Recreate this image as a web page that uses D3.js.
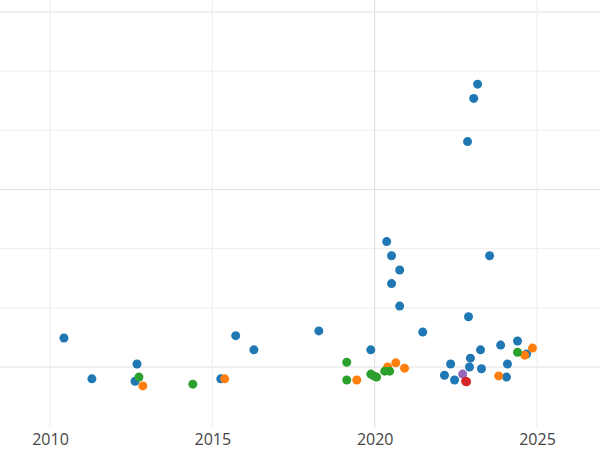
<!DOCTYPE html>
<html><head><meta charset="utf-8">
<script src="https://cdn.jsdelivr.net/npm/d3@7"></script>
<style>body{margin:0;background:#fff}</style>
</head><body>
<svg id="chart" width="600" height="450"></svg>
<script>
var xTicks = [2010, 2015, 2020, 2025];
var yGrid = [0, 1, 2, 3, 4, 5, 6];
var colors = {blue: "#1f77b4", orange: "#ff7f0e", green: "#2ca02c", purple: "#9467bd", red: "#d62728"};

var blueX = [2010.43, 2011.29, 2012.68, 2012.62, 2015.26, 2015.72, 2016.28, 2018.28, 2019.88, 2020.37, 2020.52, 2020.77, 2020.52, 2020.77, 2021.48, 2022.86, 2023.05, 2023.17, 2023.54, 2022.89, 2022.15, 2022.46, 2022.34, 2022.95, 2022.92, 2023.26, 2023.29, 2023.88, 2024.09, 2024.06, 2024.4, 2024.68];
var blueY = [0.49, -0.2, 0.05, -0.24, -0.2, 0.53, 0.29, 0.61, 0.29, 2.12, 1.88, 1.64, 1.41, 1.03, 0.59, 3.81, 4.54, 4.78, 1.88, 0.85, -0.14, -0.22, 0.05, 0.15, 0, 0.29, -0.03, 0.37, 0.05, -0.17, 0.44, 0.22];
var orangeX = [2012.86, 2015.38, 2019.45, 2020.4, 2020.65, 2020.92, 2023.82, 2024.62, 2024.86];
var orangeY = [-0.32, -0.2, -0.22, 0, 0.07, -0.02, -0.15, 0.2, 0.32];
var greenX = [2012.74, 2014.4, 2019.14, 2019.14, 2019.88, 2019.97, 2020.06, 2020.31, 2020.46, 2024.4];
var greenY = [-0.17, -0.29, 0.08, -0.22, -0.12, -0.15, -0.17, -0.07, -0.07, 0.25];
var purpleX = [2022.71], purpleY = [-0.12];
var redX = [2022.8, 2022.83], redY = [-0.24, -0.25];

var svg = d3.select("#chart");
var x = d3.scaleLinear().domain([2008.46, 2026.94]).range([0, 600]);
var y = d3.scaleLinear().domain([0, 6]).range([367, 12]);

svg.selectAll(".hg").data(yGrid).enter().append("line")
  .attr("x1", 0).attr("x2", 600)
  .attr("y1", d => y(d)).attr("y2", d => y(d))
  .attr("stroke", d => (d % 3 == 0) ? "#e2e2e2" : "#efefef").attr("stroke-width", 1.2);
svg.selectAll(".vg").data(xTicks).enter().append("line")
  .attr("x1", d => x(d)).attr("x2", d => x(d))
  .attr("y1", 0).attr("y2", 428)
  .attr("stroke", d => d == 2020 ? "#e2e2e2" : "#efefef").attr("stroke-width", 1.2);

var xAxis = d3.axisBottom(x).tickValues(xTicks).tickFormat(d3.format("d")).tickSize(0).tickPadding(6);
var g = svg.append("g").attr("transform", "translate(0,428)").call(xAxis);
g.select(".domain").remove();
g.selectAll("text").attr("font-family", "Open Sans, sans-serif").attr("font-size", 16).attr("fill", "#444");

function series(xs, ys, c) {
  svg.append("g").selectAll("circle").data(xs).enter().append("circle")
    .attr("cx", d => x(d)).attr("cy", (d, i) => y(ys[i]))
    .attr("r", 4.5).attr("fill", c);
}
series(blueX, blueY, colors.blue);
series(orangeX, orangeY, colors.orange);
series(greenX, greenY, colors.green);
series(purpleX, purpleY, colors.purple);
series(redX, redY, colors.red);
</script>
</body></html>
